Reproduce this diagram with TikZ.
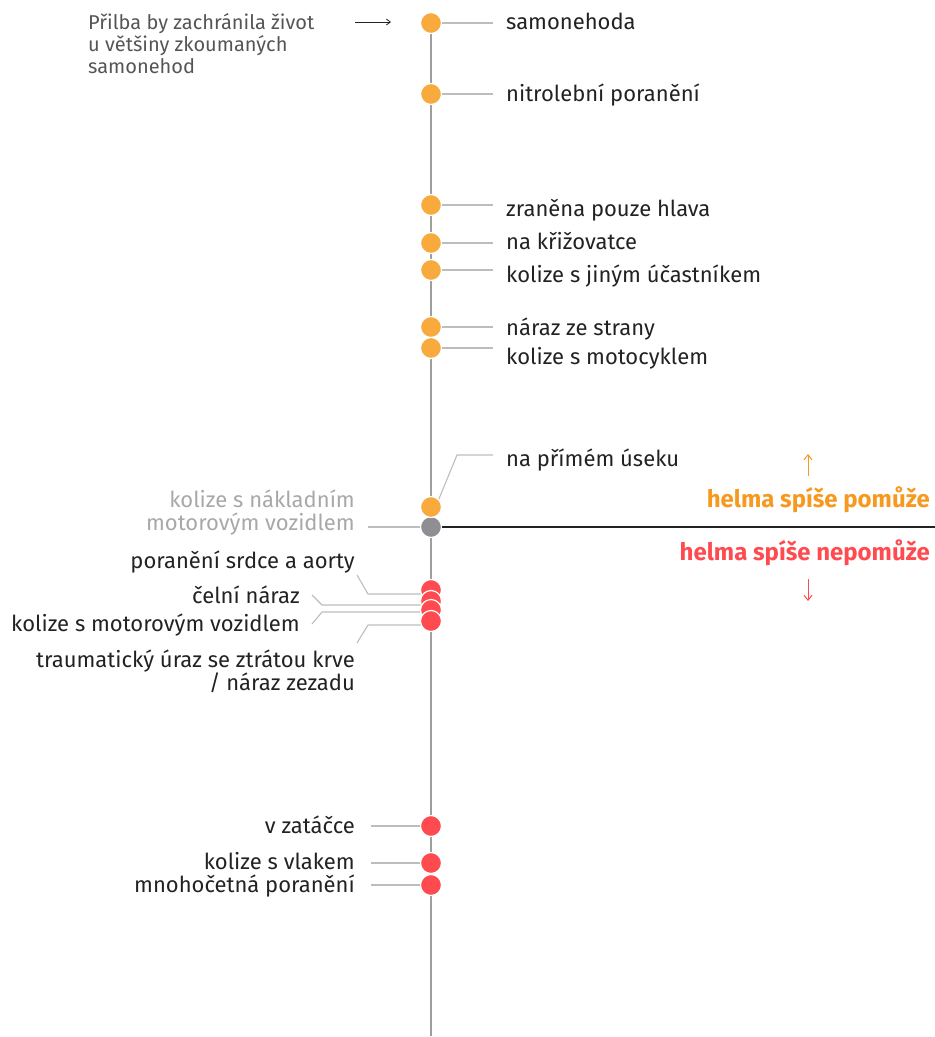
\documentclass[tikz,border=0pt]{standalone}
\usepackage{fontspec}
\setmainfont{Fira Sans}
\usetikzlibrary{arrows.meta}
\definecolor{dotor}{HTML}{F9AA3C}
\definecolor{dotred}{HTML}{FF4A4F}
\definecolor{dotgray}{HTML}{8E8E93}
\definecolor{axisgray}{HTML}{9E9E9E}
\definecolor{leadgray}{HTML}{BDBDBD}
\definecolor{txtdark}{HTML}{222222}
\definecolor{txtgray}{HTML}{A8A8A8}
\definecolor{txtintro}{HTML}{555555}
\definecolor{txtor}{HTML}{F7981F}
\begin{document}
\begin{tikzpicture}[x=1pt,y=-1pt,
  dot/.style={circle,minimum size=21pt,inner sep=0pt,draw=white,line width=1.2pt},
  odot/.style={dot,fill=dotor},
  rdot/.style={dot,fill=dotred},
  gdot/.style={dot,fill=dotgray},
  lead/.style={draw=leadgray,line width=1.1pt},
  rlab/.style={anchor=mid west,inner sep=0pt,font=\fontsize{22}{26}\selectfont,text=txtdark,yshift=-6pt},
  llab/.style={anchor=mid east,inner sep=0pt,font=\fontsize{22}{26}\selectfont,text=txtdark,yshift=-5pt},
  glab/.style={llab,text=txtgray},
  intro/.style={anchor=mid west,inner sep=0pt,font=\fontsize{20}{22}\selectfont,text=txtintro,yshift=-5pt},
  side/.style={anchor=mid east,inner sep=0pt,font=\bfseries\fontsize{24}{26}\selectfont,yshift=-5pt}
]
\useasboundingbox (0,0) rectangle (935,1037);
% axis
\coordinate (axtop) at (431,22);
\coordinate (axbot) at (431,1036);
\draw[axisgray,line width=2.6pt] (axtop) -- (axbot);

% divider
\coordinate (divend) at (935,527);

% orange dots
\node[odot] (o1) at (431,23) {};
\node[odot] (o2) at (431,94) {};
\node[odot] (o3) at (431,205) {};
\node[odot] (o4) at (431,243) {};
\node[odot] (o5) at (431,270) {};
\node[odot] (o6) at (431,327) {};
\node[odot] (o7) at (431,348) {};
\node[gdot] (g1) at (431,527) {};
\node[odot] (o8) at (431,507) {};
\draw[txtdark,line width=1.2pt] (g1.east) -- (divend);

% right labels
\node[rlab] (t1) at (506,21) {samonehoda};
\node[rlab] (t2) at (506,93) {nitrolební poranění};
\node[rlab] (t3) at (506,208) {zraněna pouze hlava};
\node[rlab] (t4) at (506,241) {na křižovatce};
\node[rlab] (t5) at (506,274) {kolize s jiným účastníkem};
\node[rlab] (t6) at (506,327) {náraz ze strany};
\node[rlab] (t7) at (506,356) {kolize s motocyklem};
\node[rlab] (t8) at (506,458) {na přímém úseku};

\coordinate (e1) at (493,23);
\coordinate (e2) at (493,94);
\coordinate (e3) at (493,205);
\coordinate (e4) at (493,243);
\coordinate (e5) at (493,270);
\coordinate (e6) at (493,327);
\coordinate (e7) at (493,348);
\foreach \i in {1,...,7}{\draw[lead] (o\i.east) -- (e\i);}
\coordinate (e8a) at (457,455);
\coordinate (e8b) at (493,455);
\draw[lead] (o8.north east) -- (e8a) -- (e8b);

% intro
\node[intro] (i1) at (88,22) {Přilba by zachránila život};
\node[intro] (i2) at (88,44) {u většiny zkoumaných};
\node[intro] (i3) at (88,66) {samonehod};
\coordinate (ia) at (355,22);
\coordinate (ib) at (391,22);
\draw[txtdark,line width=0.8pt,-{Straight Barb[length=4pt,width=6pt]}] (ia) -- (ib);

% gray label
\node[glab] (gt1) at (355,500) {kolize s nákladním};
\node[glab] (gt2) at (355,523) {motorovým vozidlem};
\coordinate (ge) at (368,527);
\draw[lead] (ge) -- (g1.west);

% red cluster leaders
\coordinate (r1a) at (357,575);
\coordinate (r1b) at (368,594);
\coordinate (r2a) at (312,595);
\coordinate (r2b) at (322,605);
\coordinate (r3a) at (312,624);
\coordinate (r3b) at (322,612);
\coordinate (r4a) at (357,643);
\coordinate (r4b) at (368,625);
\coordinate (rx1) at (431,594);
\coordinate (rx2) at (431,605);
\coordinate (rx3) at (431,612);
\coordinate (rx4) at (431,625);
\draw[lead] (r1a) -- (r1b) -- (rx1);
\draw[lead] (r2a) -- (r2b) -- (rx2);
\draw[lead] (r3a) -- (r3b) -- (rx3);
\draw[lead] (r4a) -- (r4b) -- (rx4);
\node[rdot] (r1) at (431,590) {};
\node[rdot] (r2) at (431,601) {};
\node[rdot] (r3) at (431,610) {};
\node[rdot] (r4) at (431,621) {};

\node[llab] (rt1) at (355,561) {poranění srdce a aorty};
\node[llab] (rt2) at (300,596) {čelní náraz};
\node[llab] (rt3) at (300,624) {kolize s motorovým vozidlem};
\node[llab] (rt4) at (355,660) {traumatický úraz se ztrátou krve};
\node[llab] (rt5) at (355,683) {/ náraz zezadu};

% lower red
\node[rdot] (r5) at (431,826) {};
\node[rdot] (r6) at (431,863) {};
\node[rdot] (r7) at (431,885) {};
\coordinate (re5) at (371,826);
\coordinate (re6) at (371,863);
\coordinate (re7) at (371,885);
\foreach \i in {5,6,7}{\draw[lead] (re\i) -- (r\i.west);}
\node[llab] (rt6) at (355,826) {v zatáčce};
\node[llab] (rt7) at (355,862) {kolize s vlakem};
\node[llab] (rt8) at (355,885) {mnohočetná poranění};

% side notes
\node[side,text=txtor] (hp) at (930,500) {helma spíše pomůže};
\node[side,text=dotred] (hn) at (930,553) {helma spíše nepomůže};
\coordinate (ua) at (808,476);
\coordinate (ub) at (808,454);
\coordinate (da) at (808,579);
\coordinate (db) at (808,601);
\draw[txtor,line width=1pt,-{Straight Barb[length=5pt,width=8pt]}] (ua) -- (ub);
\draw[dotred,line width=1pt,-{Straight Barb[length=5pt,width=8pt]}] (da) -- (db);
\end{tikzpicture}
\end{document}
